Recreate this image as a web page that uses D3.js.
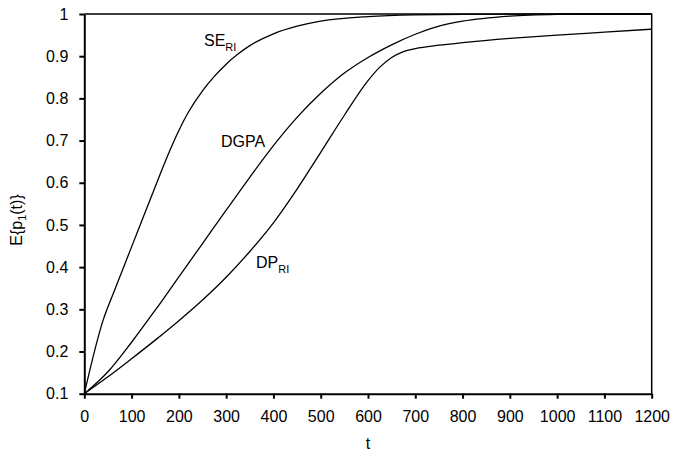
<!DOCTYPE html>
<html>
<head>
<meta charset="utf-8">
<script src="https://cdn.jsdelivr.net/npm/d3@7/dist/d3.min.js"></script>
<style>
body { margin: 0; background: #fff; }
svg { display: block; font-family: Arial, "Liberation Sans", sans-serif; }
.axis text { font-size: 16px; fill: #000; }
.axis path, .axis line { stroke: #000; }
.curve { fill: none; stroke: #000; stroke-width: 1.3; }
.lbl { font-size: 16px; fill: #000; }
.sub { font-size: 11px; }
</style>
</head>
<body>
<svg width="673" height="454"></svg>
<script>
// values
var seT = [0, 40, 60, 80, 100, 120, 140, 160, 180, 200, 220, 250, 275, 300, 325, 350, 400, 450, 500, 600, 700, 800, 1000, 1200];
var seV = [0.1, 0.275, 0.334, 0.391, 0.448, 0.505, 0.562, 0.619, 0.674, 0.724, 0.767, 0.818, 0.852, 0.881, 0.905, 0.925, 0.953, 0.971, 0.983, 0.994, 0.998, 0.999, 1, 1];

var dgpaT = [0, 50, 100, 150, 200, 250, 300, 350, 400, 450, 500, 550, 600, 650, 700, 750, 800, 900, 1000, 1100, 1200];
var dgpaV = [0.1, 0.152, 0.222, 0.298, 0.377, 0.456, 0.535, 0.613, 0.688, 0.755, 0.812, 0.86, 0.897, 0.927, 0.952, 0.971, 0.983, 0.995, 0.999, 1, 1];

var dpT = [0, 50, 100, 150, 200, 250, 300, 350, 400, 450, 500, 550, 600, 625, 650, 675, 700, 750, 800, 900, 1000, 1100, 1200];
var dpV = [0.1, 0.14, 0.183, 0.227, 0.273, 0.322, 0.376, 0.437, 0.505, 0.585, 0.672, 0.76, 0.842, 0.874, 0.897, 0.911, 0.918, 0.926, 0.932, 0.942, 0.95, 0.957, 0.964];

var xTicks = [0, 100, 200, 300, 400, 500, 600, 700, 800, 900, 1000, 1100, 1200];
var yTicks = [0.1, 0.2, 0.3, 0.4, 0.5, 0.6, 0.7, 0.8, 0.9, 1];

var svg = d3.select('svg');
var svgWidth = +svg.attr('width');
var svgHeight = +svg.attr('height');
var padding = {t: 14, r: 21.3, b: 60.3, l: 84.3};
var chartWidth = svgWidth - padding.l - padding.r;
var chartHeight = svgHeight - padding.t - padding.b;

var chartG = svg.append('g')
    .attr('transform', 'translate(' + [padding.l, padding.t] + ')');

var xScale = d3.scaleLinear().domain([0, 1200]).range([0, chartWidth]);
var yScale = d3.scaleLinear().domain([0.1, 1]).range([chartHeight, 0]);

// frame (top and right)
chartG.append('path')
    .attr('d', 'M0,0H' + chartWidth + 'V' + chartHeight)
    .attr('fill', 'none')
    .attr('stroke', '#000')
    .attr('stroke-width', 1.5);

var xAxis = d3.axisBottom(xScale).tickValues(xTicks).tickSize(5).tickSizeOuter(0).tickPadding(12)
    .tickFormat(d3.format('d'));
var yAxis = d3.axisLeft(yScale).tickValues(yTicks).tickSize(5).tickSizeOuter(0).tickPadding(11)
    .tickFormat(function(d) { return d === 1 ? '1' : d.toFixed(1); });

chartG.append('g')
    .attr('class', 'x axis')
    .attr('transform', 'translate(0,' + chartHeight + ')')
    .call(xAxis)
    .call(function(g) { g.selectAll('path, line').attr('stroke-width', 2); });

chartG.append('g')
    .attr('class', 'y axis')
    .call(yAxis)
    .call(function(g) { g.selectAll('path, line').attr('stroke-width', 2); });

var line = d3.line()
    .x(function(d) { return xScale(d[0]); })
    .y(function(d) { return yScale(d[1]); })
    .curve(d3.curveMonotoneX);

function pairs(ts, vs) {
    return ts.map(function(t, i) { return [t, vs[i]]; });
}

[pairs(seT, seV), pairs(dgpaT, dgpaV), pairs(dpT, dpV)].forEach(function(s) {
    chartG.append('path')
        .attr('class', 'curve')
        .attr('d', line(s));
});

// curve labels
function label(x, y, main, sub) {
    var t = svg.append('text').attr('class', 'lbl').attr('x', x).attr('y', y);
    t.append('tspan').text(main);
    if (sub) t.append('tspan').attr('class', 'sub').attr('dy', 5).text(sub);
}
label(204, 46, 'SE', 'RI');
label(221, 147, 'DGPA');
label(256, 268, 'DP', 'RI');

// axis titles
svg.append('text')
    .attr('class', 'lbl')
    .attr('text-anchor', 'middle')
    .attr('x', padding.l + xScale(600))
    .attr('y', 449)
    .text('t');

var yl = svg.append('text')
    .attr('class', 'lbl')
    .attr('text-anchor', 'middle')
    .attr('transform', 'translate(22,220)rotate(-90)');
yl.append('tspan').text('E{p');
yl.append('tspan').attr('class', 'sub').attr('dy', 4).text('1');
yl.append('tspan').attr('dy', -4).text('(t)}');
</script>
</body>
</html>
